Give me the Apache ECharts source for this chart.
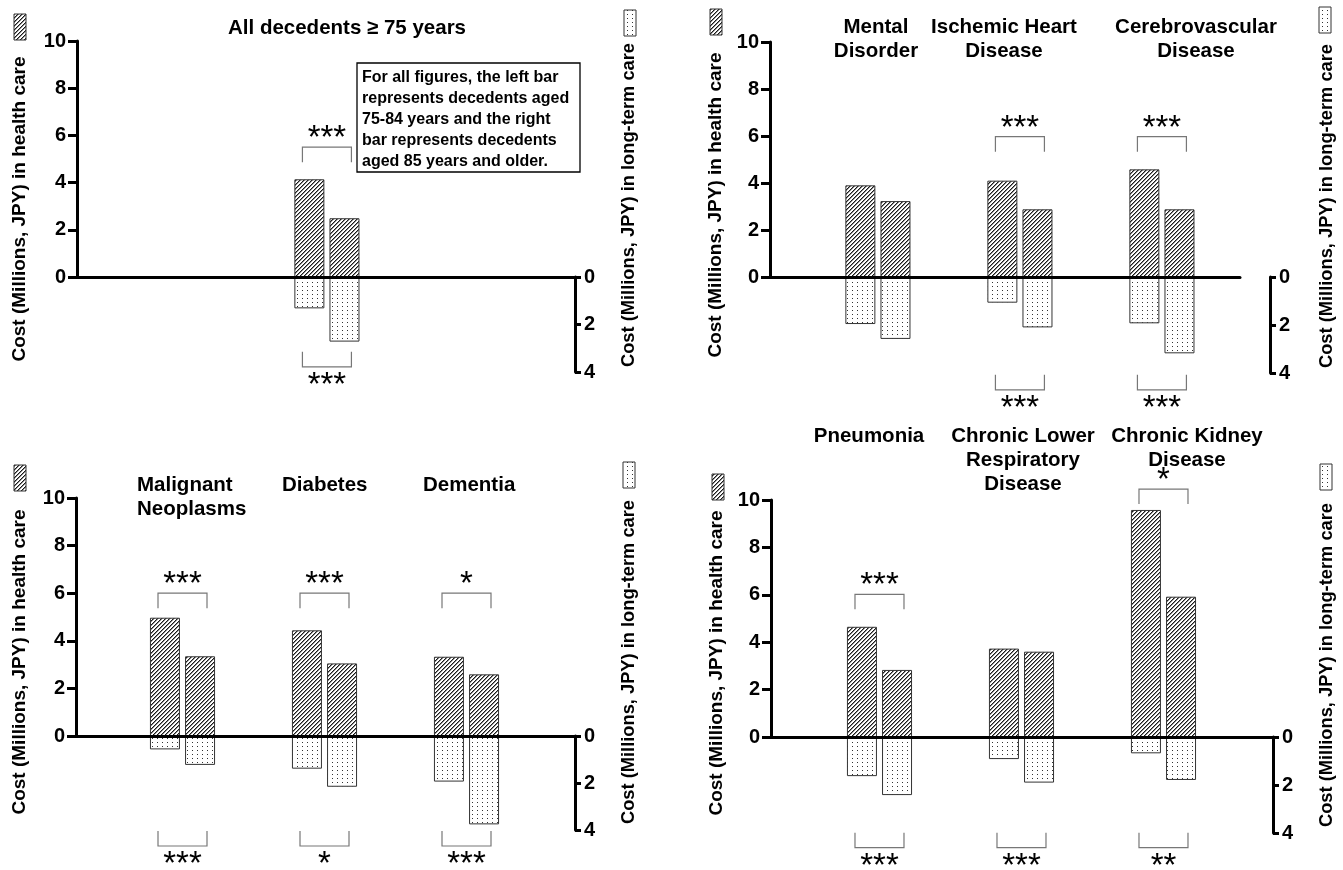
<!DOCTYPE html>
<html><head><meta charset="utf-8">
<script src="https://cdn.jsdelivr.net/npm/echarts@6/dist/echarts.min.js"></script>
<style>html,body{margin:0;padding:0;background:#fff}#c{width:1343px;height:870px}</style>
</head><body><div id="c"></div>
<script>
// ---------------- DATA ----------------
// Panel 1: all decedents (single group in middle slot)
const p1Cats = ['All decedents \u2265 75 years'];
const p1Slots = [1];
const p1Hc7584 = [4.14];
const p1Hc85 = [2.49];
const p1Ltc7584 = [1.32];
const p1Ltc85 = [2.72];
const p1SigTop = ['***'];
const p1SigTopY = [5.5];
const p1SigBot = ['***'];
const p1SigBotY = [3.78];

// Panel 2
const p2Cats = ['Mental\nDisorder', 'Ischemic Heart\nDisease', 'Cerebrovascular\nDisease'];
const p2Slots = [0, 1, 2];
const p2Hc7584 = [3.90, 4.10, 4.58];
const p2Hc85 = [3.23, 2.88, 2.88];
const p2Ltc7584 = [1.96, 1.07, 1.93];
const p2Ltc85 = [2.58, 2.10, 3.18];
const p2SigTop = [null, '***', '***'];
const p2SigTopY = [null, 5.97, 5.97];
const p2SigBot = [null, '***', '***'];
const p2SigBotY = [null, 4.7, 4.7];

// Panel 3
const p3Cats = ['Malignant\nNeoplasms', 'Diabetes', 'Dementia'];
const p3Slots = [0, 1, 2];
const p3Hc7584 = [4.97, 4.44, 3.33];
const p3Hc85 = [3.35, 3.05, 2.59];
const p3Ltc7584 = [0.57, 1.39, 1.94];
const p3Ltc85 = [1.23, 2.16, 3.76];
const p3SigTop = ['***', '***', '*'];
const p3SigTopY = [6.0, 6.0, 6.0];
const p3SigBot = ['***', '*', '***'];
const p3SigBotY = [4.68, 4.68, 4.68];

// Panel 4
const p4Cats = ['Pneumonia', 'Chronic Lower\nRespiratory\nDisease', 'Chronic Kidney\nDisease'];
const p4Slots = [0, 1, 2];
const p4Hc7584 = [4.65, 3.73, 9.58];
const p4Hc85 = [2.83, 3.60, 5.92];
const p4Ltc7584 = [1.63, 0.92, 0.68];
const p4Ltc85 = [2.42, 1.90, 1.79];
const p4SigTop = ['***', null, '*'];
const p4SigTopY = [6.02, null, 10.46];
const p4SigBot = ['***', '***', '**'];
const p4SigBotY = [4.61, 4.61, 4.61];

const hcTicksMax = 10, hcInterval = 2;
const ltcTicksMax = 4, ltcInterval = 2;
const leftTitle = 'Cost (Millions, JPY) in health care';
const rightTitle = 'Cost (Millions, JPY) in long-term care';
const noteLines = ['For all figures, the left bar', 'represents decedents aged', '75-84 years and the right', 'bar represents decedents', 'aged 85 years and older.'];

// ---------------- LAYOUT ----------------
const FONT = '"Liberation Sans", Arial, Helvetica, sans-serif';
const UNIT = 142; // px per slot
const panels = [
  {cats:p1Cats, slots:p1Slots, hcA:p1Hc7584, hcB:p1Hc85, lA:p1Ltc7584, lB:p1Ltc85, sT:p1SigTop, sTY:p1SigTopY, sB:p1SigBot, sBY:p1SigBotY,
   L:77, Rt:575, Rb:575, top:41, zero:277, bot:372, xmin:-0.76,
   lt:{x:20,y:209}, rt:{x:629,y:205}, li:{x:14,y:14}, ri:{x:624,y:10},
   labels:[{x:347,y:28,align:'center'}]},
  {cats:p2Cats, slots:p2Slots, hcA:p2Hc7584, hcB:p2Hc85, lA:p2Ltc7584, lB:p2Ltc85, sT:p2SigTop, sTY:p2SigTopY, sB:p2SigBot, sBY:p2SigBotY,
   L:770, Rt:1240, Rb:1270, top:42, zero:277, bot:373, xmin:-0.76,
   lt:{x:716,y:205}, rt:{x:1327,y:206}, li:{x:710,y:9}, ri:{x:1319,y:7},
   labels:[{x:876,y:27,align:'center'},{x:1004,y:27,align:'center'},{x:1196,y:27,align:'center'}]},
  {cats:p3Cats, slots:p3Slots, hcA:p3Hc7584, hcB:p3Hc85, lA:p3Ltc7584, lB:p3Ltc85, sT:p3SigTop, sTY:p3SigTopY, sB:p3SigBot, sBY:p3SigBotY,
   L:76, Rt:575, Rb:575, top:498, zero:736, bot:830, xmin:-0.75,
   lt:{x:20,y:662}, rt:{x:629,y:662}, li:{x:14,y:465}, ri:{x:623,y:462},
   labels:[{x:137,y:485,align:'left'},{x:282,y:485,align:'left'},{x:423,y:485,align:'left'}]},
  {cats:p4Cats, slots:p4Slots, hcA:p4Hc7584, hcB:p4Hc85, lA:p4Ltc7584, lB:p4Ltc85, sT:p4SigTop, sTY:p4SigTopY, sB:p4SigBot, sBY:p4SigBotY,
   L:771, Rt:1273, Rb:1273, top:500, zero:737, bot:833, xmin:-0.764,
   lt:{x:717,y:663}, rt:{x:1327,y:665}, li:{x:712,y:474}, ri:{x:1320,y:464},
   labels:[{x:869,y:436,align:'center'},{x:1023,y:436,align:'center'},{x:1187,y:436,align:'center'}]}
];

// ---------------- PATTERNS ----------------
function hatchCanvas(){
  const c = document.createElement('canvas'); c.width = 4; c.height = 4;
  const g = c.getContext('2d'); g.fillStyle = '#fff'; g.fillRect(0,0,4,4);
  for (let i=0;i<4;i++){ g.fillStyle='#1a1a1a'; g.fillRect(i,3-i,1,1); g.fillStyle='#8a8a8a'; g.fillRect((i+1)%4,3-i,1,1); }
  return c;
}
function dotCanvas(){
  const c = document.createElement('canvas'); c.width = 5; c.height = 4;
  const g = c.getContext('2d'); g.fillStyle = '#fff'; g.fillRect(0,0,5,4);
  g.fillStyle = '#333'; g.fillRect(2,2,1,1);
  return c;
}
const hatch = {image: hatchCanvas(), repeat: 'repeat'};
const dots = {image: dotCanvas(), repeat: 'repeat'};

// ---------------- OPTION ----------------
const grids = [], xAxes = [], yAxes = [], series = [], graphics = [];
const axisLbl = {color:'#000', fontWeight:'bold', fontSize:20, fontFamily:FONT};

function bracketSeries(gi, slots, sig, sigY, down){
  const data = [];
  slots.forEach((s,i)=>{ if (sig[i]) data.push({value:[s, sigY[i]], stars:sig[i]}); });
  const starsList = data.map(d=>d.stars);
  return {
    type:'custom', xAxisIndex:gi, yAxisIndex:gi, clip:false, silent:true, z:5,
    data: data.map(d=>d.value),
    renderItem: function(params, api){
      const p = api.coord([api.value(0), api.value(1)]);
      const hw = 24.5, leg = 15;
      const legDir = down ? 1 : -1;
      return {type:'group', children:[
        {type:'polyline', shape:{points:[[p[0]-hw, p[1]+leg*legDir],[p[0]-hw,p[1]],[p[0]+hw,p[1]],[p[0]+hw,p[1]+leg*legDir]]},
         style:{stroke:'#777', lineWidth:1.2, fill:null}},
        {type:'text', x:p[0], y: down ? p[1]-8 : p[1]+19,
         style:{text:starsList[params.dataIndex], fill:'#000', font:'normal 33px '+FONT, align:'center', verticalAlign:'middle'}}
      ]};
    }
  };
}

panels.forEach((P, k)=>{
  const gt = 2*k, gb = 2*k+1;
  grids.push({left:P.L, top:P.top, width:P.Rt-P.L, height:P.zero-P.top, outerBoundsMode:'none', containLabel:false});
  grids.push({left:P.L, top:P.zero, width:P.Rb-P.L, height:P.bot-P.zero, outerBoundsMode:'none', containLabel:false});
  xAxes.push({type:'value', gridIndex:gt, min:P.xmin, max:P.xmin+(P.Rt-P.L)/UNIT, position:'bottom', z:10,
    axisLine:{show:true, onZero:false, lineStyle:{color:'#000', width:3}}, axisTick:{show:false}, axisLabel:{show:false}, splitLine:{show:false}});
  xAxes.push({type:'value', gridIndex:gb, min:P.xmin, max:P.xmin+(P.Rb-P.L)/UNIT, show:false, axisLine:{onZero:false}, splitLine:{show:false}});
  yAxes.push({type:'value', gridIndex:gt, min:0, max:hcTicksMax, interval:hcInterval, position:'left', z:10,
    axisLine:{show:true, onZero:false, lineStyle:{color:'#000', width:3}}, axisTick:{show:true, inside:false, length:9, lineStyle:{color:'#000', width:3}},
    axisLabel:Object.assign({margin:11}, axisLbl), splitLine:{show:false}});
  yAxes.push({type:'value', gridIndex:gb, min:0, max:ltcTicksMax, interval:ltcInterval, inverse:true, position:'right', z:10,
    axisLine:{show:true, onZero:false, lineStyle:{color:'#000', width:3}}, axisTick:{show:true, inside:false, length:6, lineStyle:{color:'#000', width:3}},
    axisLabel:Object.assign({margin:9}, axisLbl), splitLine:{show:false}});
  const mk = arr => P.slots.map((s,i)=>[s, arr[i]]);
  const barBase = {type:'bar', barWidth:30, barGap:'17%', silent:true, z:2};
  series.push(Object.assign({}, barBase, {name:'Health care 75-84', xAxisIndex:gt, yAxisIndex:gt, data:mk(P.hcA), itemStyle:{color:hatch, borderColor:'#333', borderWidth:1}}));
  series.push(Object.assign({}, barBase, {name:'Health care 85+', xAxisIndex:gt, yAxisIndex:gt, data:mk(P.hcB), itemStyle:{color:hatch, borderColor:'#333', borderWidth:1}}));
  series.push(Object.assign({}, barBase, {name:'Long-term care 75-84', xAxisIndex:gb, yAxisIndex:gb, data:mk(P.lA), itemStyle:{color:dots, borderColor:'#333', borderWidth:1}}));
  series.push(Object.assign({}, barBase, {name:'Long-term care 85+', xAxisIndex:gb, yAxisIndex:gb, data:mk(P.lB), itemStyle:{color:dots, borderColor:'#333', borderWidth:1}}));
  series.push(bracketSeries(gt, P.slots, P.sT, P.sTY, true));
  series.push(bracketSeries(gb, P.slots, P.sB, P.sBY, false));

  // axis titles
  graphics.push({type:'text', x:P.lt.x, y:P.lt.y, rotation:Math.PI/2,
    style:{text:leftTitle, fill:'#000', font:'bold 19px '+FONT, align:'center', verticalAlign:'middle'}});
  graphics.push({type:'text', x:P.rt.x, y:P.rt.y, rotation:Math.PI/2,
    style:{text:rightTitle, fill:'#000', font:'bold 18.3px '+FONT, align:'center', verticalAlign:'middle'}});
  // legend icons
  graphics.push({type:'rect', shape:{x:P.li.x, y:P.li.y, width:12, height:26}, style:{fill:hatch, stroke:'#333', lineWidth:1}});
  graphics.push({type:'rect', shape:{x:P.ri.x, y:P.ri.y, width:12, height:26}, style:{fill:dots, stroke:'#333', lineWidth:1}});
  // category labels
  P.cats.forEach((c,i)=>{
    const lb = P.labels[i];
    graphics.push({type:'text', x:lb.x, y:lb.y-12,
      style:{text:c, fill:'#000', font:'bold 20.5px '+FONT, align:lb.align, verticalAlign:'top', lineHeight:24}});
  });
});

// note box
graphics.push({type:'rect', shape:{x:357, y:63, width:223, height:109}, style:{fill:'#fff', stroke:'#000', lineWidth:1.3}});
graphics.push({type:'text', x:362, y:67,
  style:{text:noteLines.join('\n'), fill:'#000', font:'bold 16px '+FONT, align:'left', verticalAlign:'top', lineHeight:21}});

const chart = echarts.init(document.getElementById('c'), null, {renderer:'canvas'});
chart.setOption({
  animation:false, backgroundColor:'#fff',
  grid:grids, xAxis:xAxes, yAxis:yAxes, series:series, graphic:graphics
});
</script></body></html>
